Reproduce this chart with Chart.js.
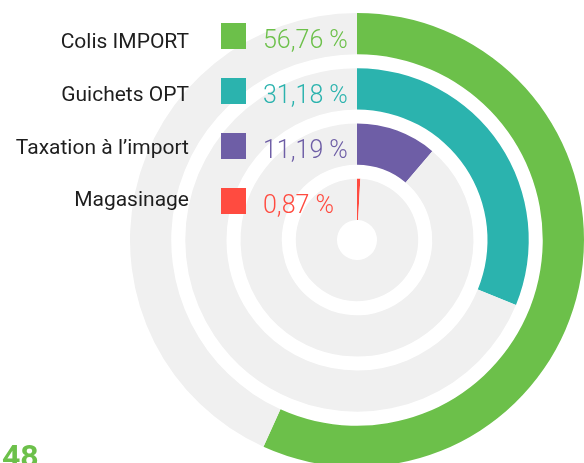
<!DOCTYPE html>
<html>
<head>
<meta charset="utf-8">
<script src="https://cdn.jsdelivr.net/npm/chart.js@4/dist/chart.umd.min.js"></script>
<style>
  html, body { margin: 0; padding: 0; width: 584px; height: 463px; overflow: hidden; background: #fff; }
  #wrap { position: absolute; left: 130px; top: 13px; width: 454px; height: 454px; }
  #legend { position: absolute; left: 0; top: 0; width: 584px; height: 463px; pointer-events: none; }
  .lbl { position: absolute; right: 395px; font-family: Roboto, sans-serif; font-size: 21px; color: #1e1e1e; white-space: nowrap; line-height: 1; }
  .sw { position: absolute; left: 221px; width: 25px; height: 26px; }
  .pct { position: absolute; left: 263px; font-family: Roboto, sans-serif; font-weight: 300; font-size: 25px; white-space: nowrap; line-height: 1; }
  #page { position: absolute; left: 2px; top: 440px; font-family: Roboto, sans-serif; font-weight: 700; font-size: 32px; color: #6cc04a; line-height: 1; }
</style>
</head>
<body>
<div id="wrap"><canvas id="c" width="454" height="454"></canvas></div>
<div id="legend"></div>
<div id="page"></div>
<script>
const categories = ['Colis IMPORT', 'Guichets OPT', 'Taxation à l\u2019import', 'Magasinage'];
const shares = [56.76, 31.18, 11.19, 0.87];
const colors = ['#6cc04a', '#2bb3ae', '#6e5ea6', '#ff4b40'];
const trackColor = '#f0f0f0';
const pageNumber = '48';

const fmt = v => v.toFixed(2).replace('.', ',') + ' %';

// Build datasets: outermost first, with transparent spacer rings between
const datasets = [];
shares.forEach((v, i) => {
  if (i > 0) {
    datasets.push({ data: [1], backgroundColor: ['rgba(0,0,0,0)'], weight: 14, borderWidth: 0 });
  }
  datasets.push({
    label: categories[i],
    data: [v, 100 - v],
    backgroundColor: [colors[i], trackColor],
    weight: 41.25,
    borderWidth: 0
  });
});

new Chart(document.getElementById('c'), {
  type: 'doughnut',
  data: { labels: ['value', 'rest'], datasets },
  options: {
    responsive: false,
    animation: false,
    cutout: 20,
    hoverOffset: 0,
    layout: { padding: 0 },
    plugins: { legend: { display: false }, tooltip: { enabled: false } }
  }
});

// Legend drawn as real text from the arrays
const legend = document.getElementById('legend');
categories.forEach((name, i) => {
  const lbl = document.createElement('div');
  lbl.className = 'lbl';
  lbl.textContent = name;
  lbl.style.top = (31 + i * 52.8) + 'px';
  legend.appendChild(lbl);

  const sw = document.createElement('div');
  sw.className = 'sw';
  sw.style.background = colors[i];
  sw.style.top = (23 + i * 55) + 'px';
  legend.appendChild(sw);

  const pct = document.createElement('div');
  pct.className = 'pct';
  pct.style.color = colors[i];
  pct.style.top = (27 + i * 55) + 'px';
  pct.textContent = fmt(shares[i]);
  legend.appendChild(pct);
});
document.getElementById('page').textContent = pageNumber;
</script>
</body>
</html>
